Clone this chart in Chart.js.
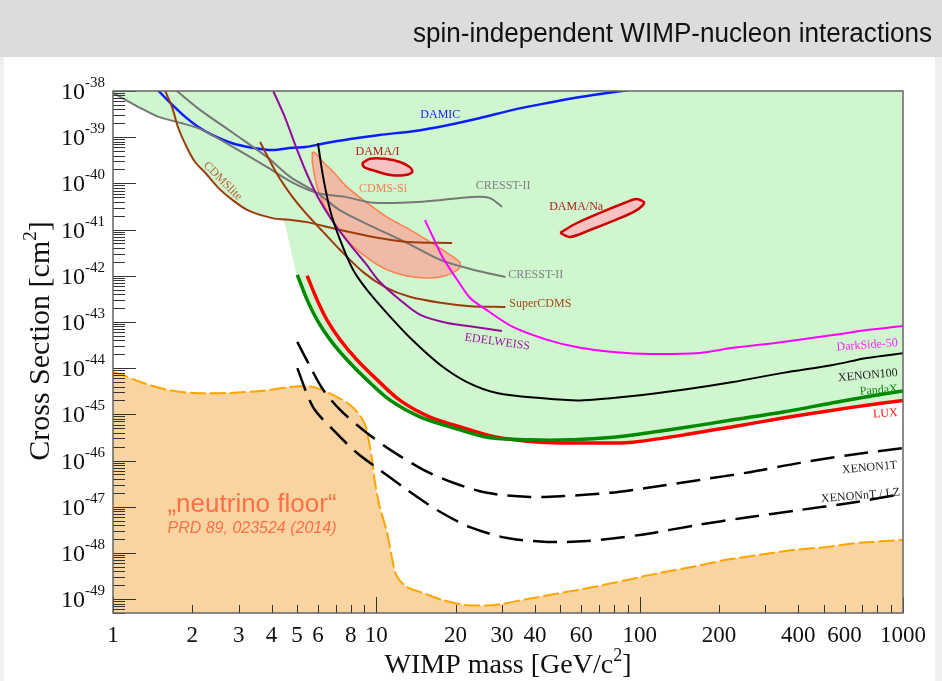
<!DOCTYPE html>
<html>
<head>
<meta charset="utf-8">
<script src="https://cdn.jsdelivr.net/npm/chart.js@4.4.1/dist/chart.umd.min.js"></script>
<style>
  html, body { margin: 0; padding: 0; background: #fff; }
  #chart { display: block; }
</style>
</head>
<body>
<canvas id="chart" width="942" height="681"></canvas>
<script>
// WIMP mass [GeV/c^2], cross section [cm^2]
const damic = [[1.45,1.2e-38],[1.49,1e-38],[1.68,5.0e-39],[1.88,2.75e-39],[2.11,1.66e-39],[2.38,1.12e-39],[2.84,7.4e-40],[3.38,5.9e-40],[4.03,5.25e-40],[4.80,5.9e-40],[5.37,6.1e-40],[6.0,6.9e-40],[7.95,9.1e-40],[10.3,1.12e-39],[13.8,1.35e-39],[18.6,1.82e-39],[24.8,2.6e-39],[33.0,3.9e-39],[44.6,5.5e-39],[59.4,7.4e-39],[90.3,1.05e-38]];
const cresstA = [[1.0,9.1e-39],[1.25,4.5e-39],[1.49,2.75e-39],[1.83,2.0e-39],[2.18,1.44e-39],[2.86,6.1e-40],[3.85,2.25e-40],[4.83,1.02e-40],[5.96,6.2e-41],[7.62,5.1e-41],[9.72,3.8e-41],[15.0,4.0e-41],[23.3,5.1e-41],[27.0,4.8e-41],[30.0,3.1e-41]];
const cresstB = [[1.70,1.2e-38],[1.75,1e-38],[2.14,3.9e-39],[2.86,1.23e-39],[3.85,3.7e-40],[4.71,1.38e-40],[5.96,6.2e-41],[7.29,2.6e-41],[9.72,1.14e-41],[13.1,5.1e-42],[17.5,2.2e-42],[23.3,1.35e-42],[30.9,9.4e-43]];
const cdmslite = [[1.56,1.2e-38],[1.58,1e-38],[1.68,4.3e-39],[1.77,1.58e-39],[1.91,5.9e-40],[2.05,2.9e-40],[2.24,1.7e-40],[2.51,8.0e-41],[2.84,4.4e-41],[3.26,2.6e-41],[4.03,1.77e-41],[4.80,1.6e-41],[5.46,1.45e-41],[7.29,9.8e-42],[9.72,6.9e-42],[13.1,5.4e-42],[19.4,5.1e-42]];
const superCdms = [[3.62,7.9e-40],[3.89,3.55e-40],[4.24,1.45e-40],[4.80,5.1e-41],[5.46,2.1e-41],[6.28,8.9e-42],[7.29,3.6e-42],[8.91,1.2e-42],[10.8,5.7e-43],[13.4,3.5e-43],[17.5,2.6e-43],[22.7,2.2e-43],[30.9,2.1e-43]];
const edelweiss = [[4.0,1.2e-38],[4.06,1e-38],[4.51,2.6e-39],[4.92,6.8e-40],[5.37,1.95e-40],[5.96,5.4e-41],[6.86,1.45e-41],[7.95,4.7e-42],[9.07,1.9e-42],[10.3,7.4e-43],[12.3,3.0e-43],[14.7,1.42e-43],[18.6,9.5e-44],[23.7,7.8e-44],[30.0,6.4e-44]];
const xenon100 = [[6.0,7.4e-40],[6.28,1.38e-40],[6.68,2.6e-41],[7.29,5.9e-42],[8.16,1.35e-42],[9.23,4.9e-43],[11.3,1.29e-43],[13.8,3.9e-44],[17.5,1.17e-44],[22.1,5.0e-45],[28.7,2.9e-45],[41.9,2.25e-45],[59.4,2.0e-45],[94.3,2.5e-45],[146,3.4e-45],[226,5.0e-45],[350,7.9e-45],[542,1.17e-44],[729,1.66e-44],[1000,2.1e-44]];
const pandax = [[5.01,1.05e-42],[5.46,3.0e-43],[5.96,1.1e-43],[6.68,4.1e-44],[7.75,1.5e-44],[9.23,5.5e-45],[11.3,2.0e-45],[14.7,8.7e-46],[19.6,5.1e-46],[26.3,3.2e-46],[38.4,2.8e-46],[54.4,2.8e-46],[79.4,3.2e-46],[94.3,3.55e-46],[146,5.1e-46],[226,7.6e-46],[350,1.12e-45],[542,1.78e-45],[729,2.4e-45],[1000,3.2e-45]];
const lux = [[5.46,1.0e-42],[5.96,3.0e-43],[6.50,1.1e-43],[7.29,4.1e-44],[8.45,1.5e-44],[10.1,5.5e-45],[12.3,2.0e-45],[16.0,8.7e-46],[21.4,5.1e-46],[28.7,3.2e-46],[41.9,2.5e-46],[59.4,2.4e-46],[79.4,2.4e-46],[94.3,2.5e-46],[146,3.55e-46],[226,5.4e-46],[350,8.3e-46],[542,1.23e-45],[729,1.58e-45],[1000,2.0e-45]];
const darkside = [[15.3,1.6e-41],[16.4,6.9e-42],[17.9,2.45e-42],[20.3,8.1e-43],[22.7,3.3e-43],[26.3,1.8e-43],[33.0,7.8e-44],[44.6,4.1e-44],[59.4,2.75e-44],[79.4,2.24e-44],[109,2.03e-44],[169,2.14e-44],[226,2.75e-44],[350,3.7e-44],[542,5.2e-44],[729,6.7e-44],[1000,8.2e-44]];
const xenon1t = [[5.01,3.7e-44],[5.61,1.07e-44],[6.28,3.4e-45],[7.29,1.25e-45],[8.91,4.6e-46],[11.3,1.7e-46],[15.1,6.3e-47],[19.6,3.3e-47],[26.3,2.0e-47],[38.4,1.63e-47],[51.2,1.7e-47],[77.1,2.0e-47],[109,2.6e-47],[169,3.8e-47],[262,5.6e-47],[406,8.9e-47],[628,1.32e-46],[1000,1.86e-46]];
const xenonnt = [[5.01,1.0e-44],[5.75,1.44e-45],[6.86,4.6e-46],[8.45,1.45e-46],[10.3,6.3e-47],[13.1,2.3e-47],[17.0,8.5e-48],[22.7,3.6e-48],[31.4,2.1e-48],[44.6,1.73e-48],[63.1,1.8e-48],[100,2.45e-48],[169,4.1e-48],[247,5.7e-48],[406,8.5e-48],[628,1.2e-47],[1000,1.9e-47]];
const neutrinoFloor = [[1.0,8.3e-45],[1.09,7.1e-45],[1.27,5.0e-45],[1.61,3.4e-45],[2.02,2.9e-45],[2.72,2.9e-45],[3.62,3.2e-45],[4.71,3.9e-45],[5.46,4.1e-45],[6.11,3.55e-45],[6.86,2.6e-45],[7.75,1.78e-45],[8.53,1.07e-45],[9.07,5.9e-46],[9.31,3.2e-46],[9.64,1.02e-46],[9.89,3.3e-47],[10.3,1.0e-47],[11.0,2.7e-48],[11.5,7.1e-49],[12.0,3.0e-49],[13.1,1.82e-49],[15.1,1.35e-49],[17.9,9.5e-50],[22.1,7.4e-50],[27.8,7.4e-50],[30.3,7.9e-50],[37.4,1.0e-49],[49.9,1.35e-49],[66.5,1.82e-49],[89.5,2.6e-49],[119,3.7e-49],[159,5.0e-49],[214,7.1e-49],[286,9.1e-49],[382,1.15e-48],[514,1.35e-48],[685,1.66e-48],[1000,1.9e-48]];
// lower edge of the excluded (green) region
const excludedEdge = [[1.0,9.1e-39],[1.11,6.7e-39],[1.25,4.5e-39],[1.49,2.75e-39],[1.74,2.24e-39],[1.77,1.58e-39],[1.91,5.9e-40],[2.05,2.9e-40],[2.24,1.7e-40],[2.51,8.0e-41],[2.84,4.4e-41],[3.26,2.6e-41],[3.79,1.95e-41],[4.43,1.6e-41],[4.71,4.2e-42],[5.01,9.4e-43],[5.46,3.0e-43],[5.96,1.1e-43],[6.68,4.1e-44],[7.75,1.5e-44],[9.23,5.5e-45],[11.3,2.0e-45],[14.7,8.7e-46],[21.4,5.1e-46],[28.7,3.2e-46],[41.9,2.5e-46],[59.4,2.4e-46],[79.4,2.4e-46],[94.3,2.5e-46],[146,3.55e-46],[226,5.4e-46],[350,8.3e-46],[542,1.23e-45],[729,1.58e-45],[1000,2.0e-45]];
// closed contours
const cdmsSi = [[5.72,4.8e-40],[5.72,2.75e-40],[6.0,7.2e-41],[6.68,1.86e-41],[7.75,5.9e-42],[9.23,2.45e-42],[11.0,1.35e-42],[13.8,9.4e-43],[17.5,9.4e-43],[20.4,1.35e-42],[20.8,1.9e-42],[18.6,3.1e-42],[15.6,5.9e-42],[13.1,1.07e-41],[11.0,1.86e-41],[9.23,3.8e-41],[7.75,8.3e-41],[6.86,1.78e-40],[6.28,2.9e-40],[5.86,4.6e-40],[5.72,4.8e-40]];
const damaI = [[8.83,2.75e-40],[9.47,3.4e-40],[10.8,3.4e-40],[12.3,2.9e-40],[13.4,2.25e-40],[13.7,1.77e-40],[12.9,1.52e-40],[11.3,1.52e-40],[9.89,1.86e-40],[8.99,2.25e-40],[8.83,2.75e-40]];
const damaNa = [[49.9,8.5e-42],[56.8,1.32e-41],[70.7,2.3e-41],[87.9,3.8e-41],[97,4.6e-41],[104,3.8e-41],[96.0,2.5e-41],[80.6,1.6e-41],[64.8,9.8e-42],[54.4,6.9e-42],[49.9,8.5e-42]];

const xTickLabels = [1, 2, 3, 4, 5, 6, 8, 10, 20, 30, 40, 60, 100, 200, 400, 600, 1000];
const yTickExponents = [-38, -39, -40, -41, -42, -43, -44, -45, -46, -47, -48, -49];

const SERIF = '"Liberation Serif", "Times New Roman", serif';
const SANS = '"Liberation Sans", Arial, sans-serif';

// text labels placed in data coordinates
const notes = [
  { text: 'DAMIC', m: 17.5, s: 3.0e-39, color: '#2020ff', align: 'center', rot: 0 },
  { text: 'DAMA/I', m: 10.1, s: 4.8e-40, color: '#b02020', align: 'center', rot: 0 },
  { text: 'CDMS-Si', m: 10.6, s: 7.6e-41, color: '#ff7f50', align: 'center', rot: 0 },
  { text: 'CRESST-II', m: 30.3, s: 8.7e-41, color: '#808080', align: 'center', rot: 0 },
  { text: 'DAMA/Na', m: 57.4, s: 3.1e-41, color: '#b02020', align: 'center', rot: 0 },
  { text: 'CRESST-II', m: 31.7, s: 1.05e-42, color: '#808080', align: 'left', rot: 0 },
  { text: 'SuperCDMS', m: 32.0, s: 2.45e-43, color: '#a0481c', align: 'left', rot: 0 },
  { text: 'EDELWEISS', m: 28.8, s: 3.7e-44, color: '#9c1aa0', align: 'center', rot: 8 },
  { text: 'CDMSlite', m: 2.61, s: 1.12e-40, color: '#b8603c', align: 'center', rot: 45 },
  { text: 'DarkSide-50', m: 955, s: 3.5e-44, color: '#ff20ff', align: 'right', rot: -4 },
  { text: 'XENON100', m: 955, s: 7.9e-45, color: '#222', align: 'right', rot: -5 },
  { text: 'PandaX', m: 955, s: 3.55e-45, color: '#108a10', align: 'right', rot: -4 },
  { text: 'LUX', m: 955, s: 1.07e-45, color: '#ff1010', align: 'right', rot: -3 },
  { text: 'XENON1T', m: 950, s: 7.9e-47, color: '#222', align: 'right', rot: -5 },
  { text: 'XENONnT / LZ', m: 975, s: 2.05e-47, color: '#222', align: 'right', rot: -5 }
];

function curve(data, color, width, order, extra) {
  return Object.assign({
    data: data.map(p => ({ x: p[0], y: p[1] })),
    borderColor: color,
    borderWidth: width,
    backgroundColor: 'transparent',
    fill: false,
    order: order,
    pointRadius: 0
  }, extra || {});
}

const datasets = [
  curve(pandax, '#008a00', 3.5, 1),
  curve(lux, '#ff0000', 3.5, 2),
  curve(xenon100, '#000', 2, 3),
  curve(xenon1t, '#000', 2.5, 4, { borderDash: [24, 10] }),
  curve(xenonnt, '#000', 2.5, 5, { borderDash: [24, 10] }),
  curve(darkside, '#ff00ff', 2, 6),
  curve(edelweiss, '#920c9a', 2, 7),
  curve(superCdms, '#9c3c0c', 2, 8),
  curve(cdmslite, '#9c3c0c', 2, 9),
  curve(cresstA, '#777', 2, 10),
  curve(cresstB, '#777', 2, 11),
  curve(damic, '#0a1eff', 2.5, 12),
  curve(damaI, '#cc0000', 2.5, 13, { fill: 'shape', backgroundColor: '#f6c2c2' }),
  curve(damaNa, '#cc0000', 2.5, 14, { fill: 'shape', backgroundColor: '#f6c2c2' }),
  curve(cdmsSi, '#ff7f50', 1.5, 15, { fill: 'shape', backgroundColor: '#efbba6' }),
  curve(neutrinoFloor, '#ffa500', 2, 16, { fill: 'start', backgroundColor: '#f9d3a0', borderDash: [16, 4] }),
  curve(excludedEdge, 'transparent', 0, 17, { fill: 'end', backgroundColor: '#cff6cf', tension: 0.15 })
];

function richText(ctx, parts, x, y, size, align, raise) {
  const big = size + 'px ' + SERIF;
  const small = Math.round(size * 0.64) + 'px ' + SERIF;
  let w = 0;
  parts.forEach(p => { ctx.font = p[1] ? small : big; w += ctx.measureText(p[0]).width; });
  let cx = align === 'right' ? x - w : align === 'center' ? x - w / 2 : x;
  ctx.textAlign = 'left';
  ctx.textBaseline = 'alphabetic';
  parts.forEach(p => {
    ctx.font = p[1] ? small : big;
    ctx.fillText(p[0], cx, p[1] ? y - size * raise : y);
    cx += ctx.measureText(p[0]).width;
  });
}

const decor = {
  id: 'decor',
  beforeDraw(chart) {
    const ctx = chart.ctx;
    ctx.save();
    ctx.fillStyle = '#efefef';
    ctx.fillRect(0, 0, chart.width, chart.height);
    ctx.fillStyle = '#fff';
    ctx.fillRect(4, 57, 931, chart.height - 57);
    ctx.fillStyle = '#dcdcdc';
    ctx.fillRect(0, 0, chart.width, 57);
    // header
    const title = 'spin-independent WIMP-nucleon interactions';
    ctx.font = '27px ' + SANS;
    const w = ctx.measureText(title).width;
    ctx.fillStyle = '#111';
    ctx.textBaseline = 'alphabetic';
    ctx.textAlign = 'left';
    ctx.translate(932 - 519, 42);
    ctx.scale(519 / w, 1);
    ctx.fillText(title, 0, 0);
    ctx.restore();
  },
  afterDatasetsDraw(chart) {
    const ctx = chart.ctx;
    const a = chart.chartArea;
    const xs = chart.scales.x, ys = chart.scales.y;
    ctx.save();

    // annotations
    ctx.textBaseline = 'middle';
    notes.forEach(n => {
      ctx.save();
      ctx.translate(xs.getPixelForValue(n.m), ys.getPixelForValue(n.s));
      ctx.rotate(n.rot * Math.PI / 180);
      ctx.font = '12px ' + SERIF;
      ctx.fillStyle = n.color;
      ctx.textAlign = n.align;
      ctx.fillText(n.text, 0, 0);
      ctx.restore();
    });

    ctx.fillStyle = '#ff7048';
    ctx.textAlign = 'left';
    ctx.textBaseline = 'middle';
    ctx.font = '26px ' + SANS;
    ctx.fillText('\u201Eneutrino floor\u201C', xs.getPixelForValue(1.61), ys.getPixelForValue(1.1e-47));
    ctx.font = 'italic 16px ' + SANS;
    ctx.fillText('PRD 89, 023524 (2014)', xs.getPixelForValue(1.61), ys.getPixelForValue(3.3e-48));

    // ticks
    ctx.strokeStyle = '#333';
    ctx.lineWidth = 1;
    ctx.beginPath();
    for (let e = -50; e <= -38; e++) {
      for (let k = 1; k <= 9; k++) {
        const v = k * Math.pow(10, e);
        if (v < ys.min * 0.999 || v > ys.max * 1.001) continue;
        const py = Math.round(ys.getPixelForValue(v)) + 0.5;
        ctx.moveTo(a.left, py);
        ctx.lineTo(a.left + (k === 1 ? 23 : 12), py);
      }
    }
    for (let e = 0; e <= 3; e++) {
      for (let k = 1; k <= 9; k++) {
        const v = k * Math.pow(10, e);
        if (v > 1000.001) continue;
        const px = Math.round(xs.getPixelForValue(v)) + 0.5;
        ctx.moveTo(px, a.bottom);
        ctx.lineTo(px, a.bottom - (k === 1 ? 16 : 8));
      }
    }
    ctx.stroke();

    // frame
    ctx.strokeStyle = '#666';
    ctx.lineWidth = 1.5;
    ctx.strokeRect(a.left, a.top, a.right - a.left, a.bottom - a.top);

    // tick labels
    ctx.fillStyle = '#111';
    ctx.font = '23px ' + SERIF;
    ctx.textAlign = 'center';
    ctx.textBaseline = 'alphabetic';
    xTickLabels.forEach(v => {
      ctx.fillText(String(v), xs.getPixelForValue(v), a.bottom + 29);
    });
    yTickExponents.forEach(e => {
      const py = ys.getPixelForValue(Math.pow(10, e));
      richText(ctx, [['10', 0], [String(e), 1]], 105, py + 8, 24, 'right', 0.5);
    });

    // axis titles
    richText(ctx, [['WIMP mass [GeV/c', 0], ['2', 1], [']', 0]], 508, 673, 28, 'center', 0.42);
    ctx.save();
    ctx.translate(49, 341);
    ctx.rotate(-Math.PI / 2);
    richText(ctx, [['Cross Section [cm', 0], ['2', 1], [']', 0]], 0, 0, 30, 'center', 0.42);
    ctx.restore();

    ctx.restore();
  }
};

new Chart(document.getElementById('chart'), {
  type: 'line',
  data: { datasets: datasets },
  options: {
    responsive: false,
    animation: false,
    events: [],
    layout: { padding: { left: 113, right: 39, top: 91, bottom: 68 } },
    scales: {
      x: { type: 'logarithmic', min: 1, max: 1000, display: false },
      y: { type: 'logarithmic', min: 5e-50, max: 1e-38, display: false }
    },
    elements: { line: { tension: 0.3 }, point: { radius: 0 } },
    plugins: { legend: { display: false }, tooltip: { enabled: false } }
  },
  plugins: [decor]
});
</script>
</body>
</html>
